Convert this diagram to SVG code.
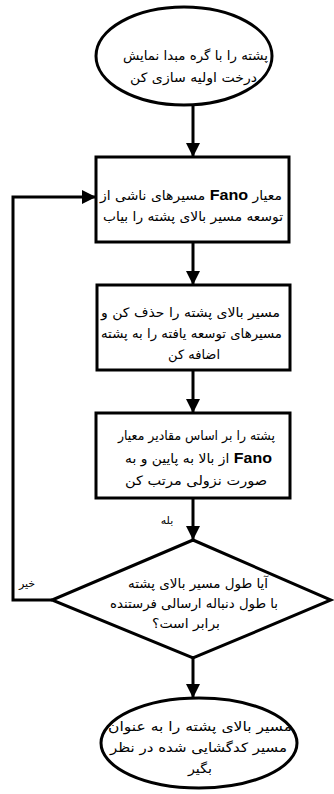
<svg xmlns="http://www.w3.org/2000/svg" width="334" height="794" viewBox="0 0 334 794">
<style>
.shape{fill:#fff;stroke:#000;stroke-width:3}
.conn{fill:none;stroke:#000;stroke-width:3}
.t{font-family:"DejaVu Sans",sans-serif;font-size:13px;fill:#000}
.lbl{font-family:"DejaVu Sans",sans-serif;font-size:11px;fill:#000;text-anchor:middle}
.b{font-family:"Liberation Sans",Arial,sans-serif;font-weight:bold;font-size:15px}
</style>
<defs>
<marker id="ah" markerUnits="userSpaceOnUse" markerWidth="14" markerHeight="18" viewBox="0 0 14 18" refX="14" refY="9" orient="auto">
<path d="M0,2 L14,9 L0,16 Z" fill="#000"/>
</marker>
</defs>
<rect width="334" height="794" fill="#fff"/>
<g id="connectors">
<line class="conn" x1="193" y1="105" x2="193" y2="157" marker-end="url(#ah)"/>
<line class="conn" x1="193" y1="242" x2="193" y2="285" marker-end="url(#ah)"/>
<line class="conn" x1="193" y1="370" x2="193" y2="413" marker-end="url(#ah)"/>
<line class="conn" x1="193" y1="498" x2="193" y2="540" marker-end="url(#ah)"/>
<line class="conn" x1="193" y1="658" x2="193" y2="698" marker-end="url(#ah)"/>
<polyline class="conn" points="52,600 13,600 13,197 96,197" marker-end="url(#ah)"/>
<text class="lbl" x="167" y="524">بله</text>
<text class="lbl" x="27" y="587">خیر</text>
</g>
<g id="start">
<ellipse class="shape" cx="184" cy="56" rx="88" ry="49"/>
<text class="t" x="123" y="60" textLength="145" lengthAdjust="spacingAndGlyphs">پشته را با گره مبدا نمایش</text>
<text class="t" x="130" y="82" textLength="127" lengthAdjust="spacingAndGlyphs">درخت اولیه سازی کن</text>
</g>
<g id="find">
<rect class="shape" x="96" y="157" width="193" height="85"/>
<text class="t" x="100" y="200" textLength="182" lengthAdjust="spacingAndGlyphs">مسیرهای ناشی از <tspan class="b">Fano</tspan> معیار</text>
<text class="t" x="103" y="221" textLength="180" lengthAdjust="spacingAndGlyphs">توسعه مسیر بالای پشته را بیاب</text>
</g>
<g id="replace">
<rect class="shape" x="97" y="285" width="193" height="85"/>
<text class="t" x="101" y="317" textLength="179" lengthAdjust="spacingAndGlyphs">مسیر بالای پشته را حذف کن و</text>
<text class="t" x="101" y="338" textLength="181" lengthAdjust="spacingAndGlyphs">مسیرهای توسعه یافته را به پشته</text>
<text class="t" x="168" y="359" textLength="52" lengthAdjust="spacingAndGlyphs">اضافه کن</text>
</g>
<g id="sort">
<rect class="shape" x="96" y="413" width="194" height="85"/>
<text class="t" x="118" y="440" textLength="157" lengthAdjust="spacingAndGlyphs">پشته را بر اساس مقادیر معیار</text>
<text class="t" x="125" y="463" textLength="147" lengthAdjust="spacingAndGlyphs">از بالا به پایین و به <tspan class="b">Fano</tspan></text>
<text class="t" x="125" y="485" textLength="142" lengthAdjust="spacingAndGlyphs">صورت نزولی مرتب کن</text>
</g>
<g id="decision">
<polygon class="shape" points="193,540 331,600 193,658 52,600"/>
<text class="t" x="128" y="588" textLength="140" lengthAdjust="spacingAndGlyphs">آیا طول مسیر بالای پشته</text>
<text class="t" x="110" y="608" textLength="168" lengthAdjust="spacingAndGlyphs">با طول دنباله ارسالی فرستنده</text>
<text class="t" x="152" y="628" textLength="68" lengthAdjust="spacingAndGlyphs">برابر است؟</text>
</g>
<g id="end">
<ellipse class="shape" cx="199" cy="743" rx="98" ry="45"/>
<text class="t" x="108" y="731" textLength="184" lengthAdjust="spacingAndGlyphs">مسیر بالای پشته را به عنوان</text>
<text class="t" x="110" y="752" textLength="177" lengthAdjust="spacingAndGlyphs">مسیر کدگشایی شده در نظر</text>
<text class="t" x="188" y="773" textLength="24" lengthAdjust="spacingAndGlyphs">بگیر</text>
</g>
</svg>
